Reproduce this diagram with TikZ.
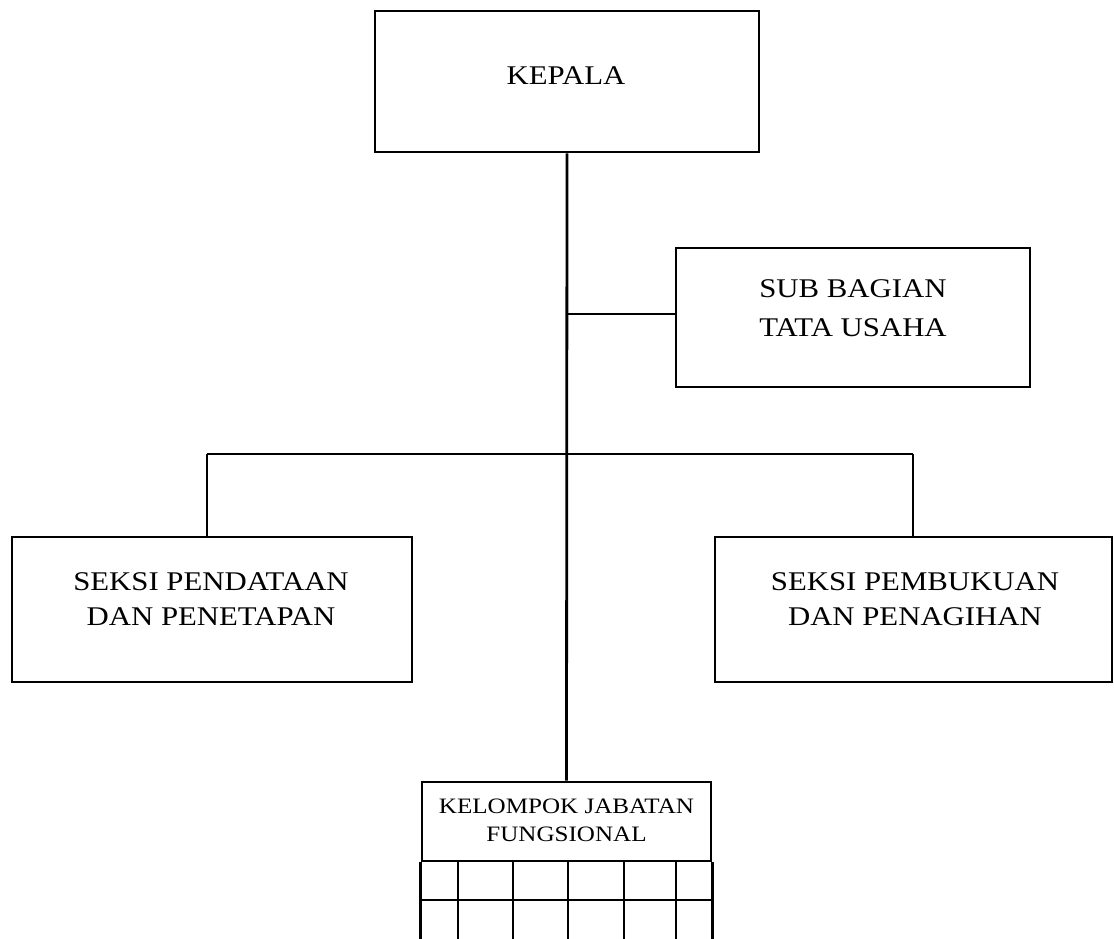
\documentclass[tikz,border=0pt]{standalone}
\usepackage{fontspec}
\setmainfont{Liberation Serif}[FakeStretch=1.14]
\begin{document}
\begin{tikzpicture}[x=1pt,y=-1pt,
  box/.style={draw,line width=2.8pt,rectangle,inner sep=0pt},
  lbl/.style={align=center,inner sep=0pt},
  conn/.style={line width=2.8pt},
  grid/.style={line width=2.6pt}]
\useasboundingbox (0,0) rectangle (1114,938);
% boxes
\node[box,minimum width=384pt,minimum height=141pt] (kepala) at (567,81.5) {};
\node[box,minimum width=354pt,minimum height=139pt] (sub) at (853,317.5) {};
\node[box,minimum width=400pt,minimum height=145pt] (left) at (212,609.5) {};
\node[box,minimum width=397pt,minimum height=145pt] (right) at (913.5,609.5) {};
\node[box,minimum width=289pt,minimum height=79pt] (kel) at (566.5,821.5) {};
% texts
\node[lbl,font=\fontsize{27}{39}\selectfont] (kepalaT) at (566,76) {KEPALA};
\node[lbl,font=\fontsize{27}{39}\selectfont] (subT) at (853,308) {SUB BAGIAN\\TATA USAHA};
\node[lbl,font=\fontsize{27}{35}\selectfont] (leftT) at (211,599) {SEKSI PENDATAAN\\DAN PENETAPAN};
\node[lbl,font=\fontsize{27}{35}\selectfont] (rightT) at (915,599) {SEKSI PEMBUKUAN\\DAN PENAGIHAN};
\node[lbl,font=\fontsize{22}{28}\selectfont] (kelT) at (566.5,820) {KELOMPOK JABATAN\\FUNGSIONAL};
% connectors
\draw[conn] (kepala.south) -- (kel.north);
\coordinate (sj) at (0,314);
\draw[conn] (sub.west |- sj) -- (kepala.south |- sj);
\coordinate (bl) at (207,454);
\coordinate (br) at (913,454);
\draw[conn] (bl) -- (br);
\draw[conn] (bl) -- (bl |- left.north);
\draw[conn] (br) -- (br |- right.north);
% grid below KELOMPOK
\coordinate (gb) at (0,940);
\draw[grid] (kel.south west) -- (kel.south west |- gb);
\draw[grid] (kel.south east) -- (kel.south east |- gb);
\draw[grid] (422,900) -- (711,900);
\foreach \gx in {458,513,568,624,676}
  \draw[grid] (\gx,861) -- (\gx,940);
\end{tikzpicture}
\end{document}
